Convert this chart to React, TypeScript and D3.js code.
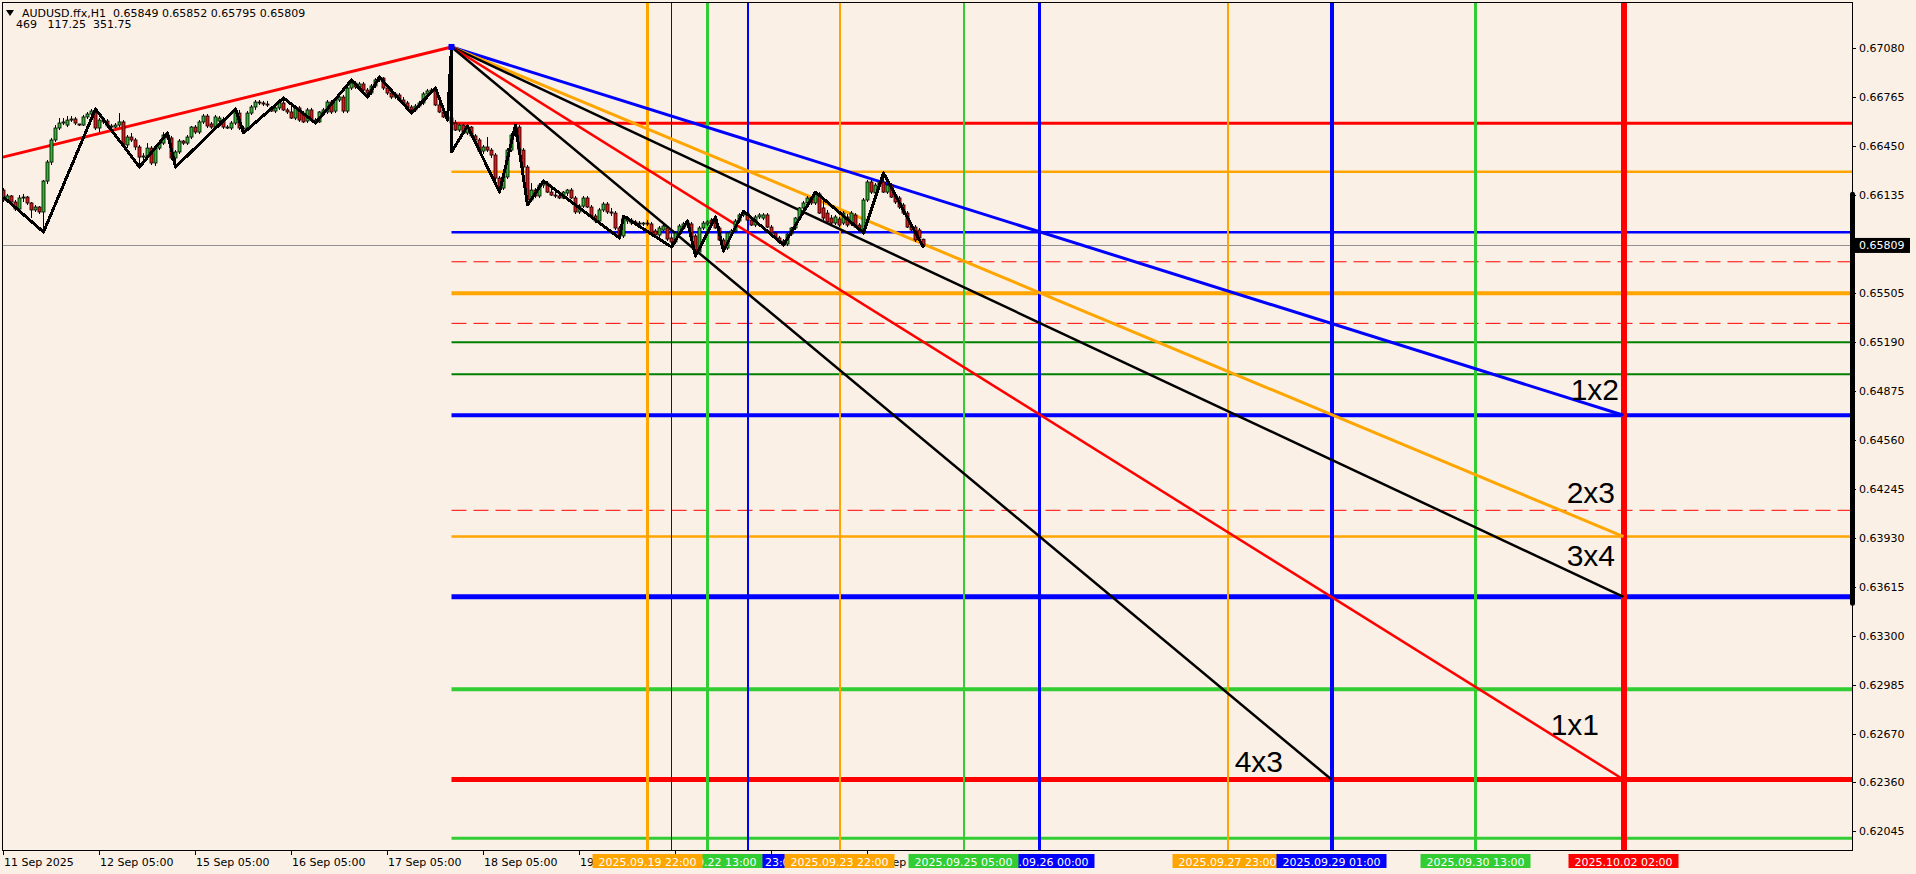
import React from "react";
import * as d3 from "d3";

// header / quote
const symbolTitle = "AUDUSD.ffx,H1";
const lastQuote = ["0.65849", "0.65852", "0.65795", "0.65809"];
const indicatorLine = ["469", "117.25", "351.75"];
const lastPrice = 0.65809;

// trading sessions on the chart (each bar = 1h, session starts 05:00)
const tradingDays = ["2025.09.11", "2025.09.12", "2025.09.15", "2025.09.16", "2025.09.17",
  "2025.09.18", "2025.09.19", "2025.09.22", "2025.09.23", "2025.09.24"];
const dayLabels = ["11 Sep 2025", "12 Sep 05:00", "15 Sep 05:00", "16 Sep 05:00", "17 Sep 05:00",
  "18 Sep 05:00", "19 Sep 05:00", "22 Sep 05:00", "23 Sep 05:00", "24 Sep 05:00"];

const priceTicks = [0.67080, 0.66765, 0.66450, 0.66135, 0.65505, 0.65190, 0.64875, 0.64560,
  0.64245, 0.63930, 0.63615, 0.63300, 0.62985, 0.62670, 0.62360, 0.62045];

// H1 bars: open, high, low, close in points (1e-5)
const bars: number[][] = [
  // 11 Sep
  [66165, 66178, 66088, 66101], [66101, 66140, 66088, 66127], [66127, 66133, 66075, 66088], [66088, 66101, 66030, 66043],
  [66043, 66133, 66030, 66114], [66114, 66140, 66088, 66120], [66120, 66127, 66069, 66082], [66082, 66088, 65985, 66037],
  [66037, 66069, 66024, 66056], [66056, 66062, 66011, 66024], [66024, 66230, 65895, 66223], [66223, 66358, 66204, 66345],
  [66345, 66500, 66326, 66487], [66487, 66583, 66474, 66564], [66564, 66628, 66551, 66596], [66596, 66628, 66583, 66603],
  [66583, 66641, 66570, 66615], [66615, 66641, 66603, 66622], [66622, 66635, 66583, 66596], [66590, 66590, 66577, 66583],
  [66583, 66648, 66577, 66635], [66635, 66667, 66622, 66654], [66654, 66686, 66641, 66673], [66673, 66686, 66551, 66564],
  // 12 Sep
  [66564, 66628, 66538, 66615], [66615, 66628, 66590, 66603], [66609, 66622, 66564, 66577], [66577, 66590, 66558, 66570],
  [66570, 66596, 66564, 66583], [66583, 66660, 66570, 66603], [66603, 66615, 66442, 66455], [66455, 66519, 66435, 66506],
  [66506, 66532, 66474, 66487], [66487, 66500, 66422, 66442], [66442, 66455, 66313, 66377], [66377, 66403, 66358, 66384],
  [66384, 66467, 66371, 66435], [66435, 66448, 66326, 66339], [66339, 66448, 66320, 66435], [66435, 66480, 66422, 66467],
  [66467, 66538, 66455, 66519], [66519, 66532, 66487, 66500], [66500, 66513, 66358, 66371], [66371, 66422, 66313, 66410],
  // 15 Sep
  [66410, 66493, 66397, 66480], [66480, 66487, 66455, 66467], [66467, 66519, 66455, 66506], [66506, 66577, 66493, 66570],
  [66570, 66583, 66525, 66538], [66538, 66615, 66525, 66603], [66603, 66654, 66590, 66641], [66641, 66654, 66564, 66577],
  [66590, 66603, 66558, 66570], [66570, 66648, 66558, 66635], [66609, 66641, 66596, 66628], [66615, 66635, 66558, 66570],
  [66570, 66583, 66558, 66570], [66564, 66609, 66551, 66596], [66596, 66686, 66583, 66673], [66660, 66680, 66551, 66564],
  [66564, 66577, 66532, 66558], [66558, 66673, 66545, 66660], [66660, 66712, 66648, 66699], [66699, 66744, 66680, 66731],
  [66731, 66744, 66712, 66725], [66725, 66738, 66705, 66718], [66718, 66738, 66699, 66712], [66693, 66699, 66667, 66673],
  // 16 Sep
  [66673, 66705, 66660, 66693], [66693, 66738, 66680, 66725], [66725, 66757, 66673, 66680], [66680, 66693, 66654, 66667],
  [66667, 66705, 66622, 66628], [66628, 66705, 66615, 66693], [66693, 66705, 66603, 66615], [66660, 66673, 66596, 66603],
  [66609, 66693, 66596, 66680], [66680, 66693, 66609, 66615], [66615, 66628, 66596, 66603], [66603, 66673, 66596, 66667],
  [66660, 66693, 66648, 66680], [66667, 66744, 66654, 66731], [66731, 66744, 66654, 66667], [66673, 66757, 66660, 66744],
  [66744, 66776, 66731, 66763], [66763, 66776, 66660, 66673], [66673, 66834, 66660, 66821], [66821, 66873, 66808, 66853],
  [66853, 66866, 66815, 66828], [66828, 66860, 66815, 66847], [66847, 66860, 66795, 66808], [66808, 66821, 66763, 66789],
  // 17 Sep
  [66789, 66847, 66776, 66834], [66834, 66885, 66821, 66873], [66873, 66892, 66860, 66885], [66885, 66892, 66808, 66821],
  [66821, 66834, 66776, 66789], [66789, 66802, 66750, 66763], [66763, 66795, 66750, 66783], [66776, 66789, 66738, 66744],
  [66744, 66763, 66712, 66725], [66725, 66738, 66686, 66699], [66699, 66712, 66660, 66680], [66680, 66718, 66667, 66705],
  [66705, 66738, 66693, 66725], [66725, 66795, 66712, 66783], [66783, 66815, 66770, 66802], [66802, 66821, 66789, 66808],
  [66808, 66821, 66705, 66712], [66712, 66725, 66660, 66667], [66667, 66680, 66628, 66635], [66635, 66654, 66615, 66628],
  [66628, 67085, 66410, 66596], [66596, 66615, 66545, 66551], [66551, 66596, 66538, 66583], [66583, 66590, 66525, 66532],
  // 18 Sep
  [66532, 66577, 66519, 66570], [66570, 66577, 66500, 66513], [66513, 66525, 66480, 66487], [66487, 66500, 66403, 66416],
  [66416, 66455, 66397, 66442], [66442, 66506, 66410, 66422], [66422, 66435, 66371, 66390], [66390, 66403, 66217, 66242],
  [66242, 66255, 66152, 66178], [66178, 66262, 66165, 66249], [66249, 66435, 66236, 66422], [66422, 66532, 66410, 66519],
  [66519, 66583, 66506, 66570], [66570, 66583, 66410, 66422], [66422, 66435, 66300, 66313], [66313, 66326, 66069, 66101],
  [66101, 66210, 66088, 66165], [66165, 66178, 66114, 66127], [66127, 66210, 66114, 66197], [66197, 66223, 66178, 66210],
  [66210, 66223, 66146, 66152], [66152, 66172, 66127, 66133], [66133, 66152, 66114, 66127], [66127, 66140, 66107, 66114],
  // 19 Sep
  [66114, 66159, 66107, 66152], [66146, 66172, 66127, 66165], [66165, 66178, 66107, 66114], [66114, 66127, 66011, 66024],
  [66024, 66075, 66011, 66062], [66062, 66127, 66050, 66114], [66114, 66127, 66050, 66056], [66056, 66069, 65985, 65998],
  [65998, 66011, 65953, 65966], [65966, 66050, 65953, 66037], [66037, 66088, 66024, 66075], [66075, 66088, 66011, 66024],
  [66024, 66050, 65998, 66017], [66017, 66030, 65908, 65921], [65921, 65934, 65857, 65870], [65870, 65998, 65857, 65985],
  [65966, 65998, 65947, 65979], [65953, 65985, 65940, 65972], [65960, 65972, 65940, 65953], [65953, 65966, 65934, 65947],
  [65947, 65960, 65934, 65953], [65953, 65972, 65934, 65947], [65947, 65960, 65882, 65889], [65902, 65915, 65870, 65876],
  // 22 Sep
  [65876, 65934, 65863, 65921], [65908, 65947, 65895, 65934], [65921, 65934, 65837, 65850], [65857, 65870, 65799, 65831],
  [65831, 65902, 65818, 65889], [65889, 65947, 65876, 65934], [65921, 65960, 65908, 65947], [65940, 65966, 65927, 65960],
  [65947, 65960, 65857, 65863], [65870, 65882, 65741, 65767], [65767, 65934, 65754, 65921], [65921, 65966, 65908, 65953],
  [65947, 65972, 65934, 65960], [65972, 65985, 65947, 65953], [65979, 65992, 65915, 65921], [65921, 65934, 65837, 65844],
  [65844, 65857, 65773, 65792], [65792, 65902, 65780, 65889], [65889, 65915, 65876, 65902], [65902, 65979, 65889, 65966],
  [65966, 66017, 65953, 66005], [66005, 66030, 65992, 66017], [66017, 66030, 65966, 65972], [65972, 65985, 65934, 65940],
  // 23 Sep
  [65940, 66005, 65927, 65992], [65992, 66017, 65979, 66005], [65985, 66017, 65972, 66005], [66005, 66017, 65921, 65927],
  [65927, 65940, 65882, 65889], [65889, 65902, 65850, 65857], [65857, 65870, 65825, 65831], [65837, 65850, 65812, 65818],
  [65818, 65895, 65805, 65882], [65882, 65927, 65870, 65921], [65921, 65992, 65908, 65985], [65985, 66056, 65972, 66050],
  [66050, 66095, 66037, 66082], [66082, 66127, 66069, 66114], [66114, 66127, 66069, 66082], [66082, 66152, 66069, 66140],
  [66140, 66152, 66011, 66017], [66050, 66101, 65972, 65985], [66017, 66037, 65953, 65960], [65985, 66005, 65940, 65953],
  [65953, 66005, 65940, 65992], [65979, 65992, 65927, 65940], [65953, 66030, 65940, 66017], [65992, 66011, 65927, 65940],
  // 24 Sep
  [65947, 66030, 65934, 66017], [66005, 66017, 65921, 65927], [65940, 65953, 65908, 65921], [65908, 66114, 65889, 66101],
  [66101, 66230, 66088, 66217], [66217, 66242, 66140, 66152], [66146, 66210, 66133, 66197], [66197, 66230, 66185, 66217],
  [66217, 66275, 66146, 66152], [66152, 66210, 66140, 66197], [66197, 66210, 66114, 66120], [66133, 66146, 66075, 66088],
  [66114, 66127, 66043, 66056], [66069, 66082, 66005, 66017], [66017, 66030, 65921, 65927], [65927, 65940, 65902, 65908],
  [65927, 65940, 65831, 65844], [65908, 65921, 65844, 65857], [65849, 65852, 65795, 65809],
];

// zigzag pivots: bar number, price in points
const zigzag: number[][] = [
  [0, 66120], [10, 65895], [23, 66686], [34, 66313], [41, 66532], [43, 66313], [58, 66686], [60, 66532],
  [70, 66757], [78, 66596], [87, 66873], [91, 66763], [94, 66892], [102, 66660], [108, 66821], [111, 66615],
  [112, 67085], [112, 66410], [116, 66577], [124, 66152], [128, 66583], [131, 66069], [135, 66223], [154, 65857],
  [155, 65998], [167, 65799], [171, 65966], [173, 65741], [178, 65992], [180, 65773], [185, 66030], [195, 65812],
  [203, 66152], [215, 65889], [220, 66275], [230, 65795],
];

const trendLine = { from: ["2025.09.11 05:00", 0.66377], to: ["2025.09.17 21:00", 0.67085] };
const fanOrigin = { time: "2025.09.17 21:00", price: 0.67085 };

const fanLines = [
  { name: "1x2", time: "2025.10.02 02:00", price: 0.64717, color: "#0000ff", width: 3 },
  { name: "2x3", time: "2025.10.02 02:00", price: 0.63937, color: "#ffa500", width: 3 },
  { name: "3x4", time: "2025.10.02 02:00", price: 0.63550, color: "#000000", width: 2.5 },
  { name: "1x1", time: "2025.10.02 02:00", price: 0.62375, color: "#ff0000", width: 2.5 },
  { name: "4x3", time: "2025.09.29 01:00", price: 0.62375, color: "#000000", width: 2.5 },
];

const fanTexts = [
  { text: "1x2", time: "2025.10.02 01:00", price: 0.64815 },
  { text: "2x3", time: "2025.10.02 00:00", price: 0.64153 },
  { text: "3x4", time: "2025.10.02 00:00", price: 0.63748 },
  { text: "1x1", time: "2025.10.01 20:00", price: 0.62661 },
  { text: "4x3", time: "2025.09.28 13:00", price: 0.62423 },
];

const levelPrices = [0.66594, 0.66283, 0.65893, 0.65704, 0.65501, 0.65308, 0.65186, 0.64980,
  0.64717, 0.64106, 0.63937, 0.63550, 0.62955, 0.62375, 0.61997];
const levelColors = ["#ff0000", "#ffa500", "#0000ff", "#ff0000", "#ffa500", "#ff0000", "#008000", "#008000",
  "#0000ff", "#ff0000", "#ffa500", "#0000ff", "#32cd32", "#ff0000", "#32cd32"];
const levelWidths = [3, 2.5, 2.5, 1, 4, 1, 2, 2, 4, 1, 2.5, 5, 4, 5, 3];
const levelDashed = [false, false, false, true, false, true, false, false, false, true, false, false, false, false, false];

// vertical time lines, listed in drawing order of their labels
const timeLines = [
  { time: "2025.09.22 04:00", color: "#0000ff", width: 1, label: false },
  { time: "2025.09.22 23:00", color: "#0000ff", width: 2, label: true },
  { time: "2025.09.22 13:00", color: "#32cd32", width: 3, label: true },
  { time: "2025.09.19 22:00", color: "#ffa500", width: 3, label: true },
  { time: "2025.09.23 22:00", color: "#ffa500", width: 2, label: true },
  { time: "2025.09.26 00:00", color: "#0000ff", width: 3, label: true },
  { time: "2025.09.25 05:00", color: "#32cd32", width: 2, label: true },
  { time: "2025.09.27 23:00", color: "#ffa500", width: 2, label: true },
  { time: "2025.09.29 01:00", color: "#0000ff", width: 4, label: true },
  { time: "2025.09.30 13:00", color: "#32cd32", width: 3, label: true },
  { time: "2025.10.02 02:00", color: "#ff0000", width: 6, label: true },
];

const rangeBar = [0.66138, 0.63508];

const W = 1916;
const H = 874;
const plot = { left: 2, top: 2, right: 1852, bottom: 850 };
const font = "DejaVu Sans";

const parseT = d3.timeParse("%Y.%m.%d %H:%M");
const lastDay = parseT(tradingDays[tradingDays.length - 1] + " 05:00") as Date;

// time string -> bar number (weekends skipped on history, plain hours in the future)
function barOf(t: string): number {
  const day = t.slice(0, 10);
  const hour = +t.slice(11, 13);
  const k = tradingDays.indexOf(day);
  if (k >= 0 && k < tradingDays.length - 1) return k * 24 + hour - 5;
  const d = parseT(t) as Date;
  return (tradingDays.length - 1) * 24 + (d.getTime() - lastDay.getTime()) / 3600000;
}

export default function App() {
  const x = d3.scaleLinear().domain([0, 1]).range([3, 7]);
  const y = d3.scaleLinear().domain([0.61922, 0.67387]).range([850, 0]);
  const pt = (v: number) => v / 1e5;
  const crisp = (v: number) => Math.round(v) + 0.5;

  const zz = d3.line<number[]>().x(d => x(d[0]) + 0.5).y(d => y(pt(d[1])));
  const ox = x(barOf(fanOrigin.time)) + 0.5;
  const oy = y(fanOrigin.price);

  return (
    <svg width={W} height={H} style={{ position: "fixed", left: 0, top: 0 }} fontFamily={font}>
      <rect width={W} height={H} fill="#faf0e6" />
      <defs>
        <clipPath id="plotClip">
          <rect x={plot.left} y={plot.top} width={plot.right - plot.left} height={plot.bottom - plot.top} />
        </clipPath>
      </defs>

      <g clipPath="url(#plotClip)">
        {/* price line */}
        <line x1={plot.left} x2={plot.right} y1={crisp(y(lastPrice))} y2={crisp(y(lastPrice))} stroke="#909090" strokeWidth={1} />

        {/* horizontal levels */}
        {levelPrices.map((p, i) => (
          <line key={"h" + i} x1={ox} x2={plot.right} y1={y(p)} y2={y(p)}
            stroke={levelColors[i]} strokeWidth={levelWidths[i]}
            strokeDasharray={levelDashed[i] ? "15,7" : undefined} />
        ))}

        {/* vertical time lines */}
        {timeLines.map((l, i) => {
          const vx = x(barOf(l.time)) + 0.5;
          return <line key={"v" + i} x1={vx} x2={vx} y1={plot.top} y2={plot.bottom}
            stroke={l.color} strokeWidth={l.width} shapeRendering="crispEdges" />;
        })}

        {/* rising trend line */}
        <line x1={x(barOf(trendLine.from[0] as string))} y1={y(trendLine.from[1] as number)}
          x2={x(barOf(trendLine.to[0] as string)) + 0.5} y2={y(trendLine.to[1] as number)}
          stroke="#ff0000" strokeWidth={3} />

        {/* fan */}
        {fanLines.map((f, i) => (
          <line key={"f" + i} x1={ox} y1={oy} x2={x(barOf(f.time)) + 0.5} y2={y(f.price)}
            stroke={f.color} strokeWidth={f.width} />
        ))}

        {/* candles */}
        {bars.map((b, i) => {
          const [o, h, l, c] = b.map(pt);
          const cx = x(i);
          const top = y(Math.max(o, c));
          const bh = Math.max(1, y(Math.min(o, c)) - top);
          return (
            <g key={"c" + i}>
              <line x1={cx + 0.5} x2={cx + 0.5} y1={y(h)} y2={y(l)} stroke="#000" strokeWidth={1} />
              <rect x={cx - 1} y={top} width={3} height={bh} fill={c >= o ? "#2fb82f" : "#e81414"} stroke="#000" strokeWidth={0.8} />
            </g>
          );
        })}

        {/* zigzag */}
        <path d={zz(zigzag) || ""} fill="none" stroke="#000" strokeWidth={3} strokeLinejoin="round"
          shapeRendering="crispEdges" />

        <rect x={ox - 3} y={oy - 3} width={6} height={6} fill="#0000ff" />

        {fanTexts.map((t, i) => (
          <text key={"t" + i} x={x(barOf(t.time))} y={y(t.price)} textAnchor="end"
            fontFamily="Liberation Sans" fontSize={30} fill="#000">{t.text}</text>
        ))}
      </g>

      {/* frame */}
      <line x1={plot.left + 0.5} x2={plot.left + 0.5} y1={plot.top} y2={plot.bottom} stroke="#000" />
      <line x1={plot.left} x2={plot.right} y1={plot.top + 0.5} y2={plot.top + 0.5} stroke="#000" />
      <line x1={plot.right + 0.5} x2={plot.right + 0.5} y1={plot.top} y2={plot.bottom + 1} stroke="#000" />
      <line x1={plot.left} x2={plot.right + 1} y1={plot.bottom + 0.5} y2={plot.bottom + 0.5} stroke="#000" />

      <line x1={plot.right + 0.5} x2={plot.right + 0.5} y1={y(rangeBar[0])} y2={y(rangeBar[1])}
        stroke="#000" strokeWidth={5} strokeLinecap="round" />

      {/* price axis */}
      {priceTicks.map((p, i) => (
        <g key={"p" + i}>
          <line x1={plot.right} x2={plot.right + 4} y1={crisp(y(p))} y2={crisp(y(p))} stroke="#000" />
          <text x={1859} y={y(p) + 4} fontSize={11} fill="#000">{p.toFixed(5)}</text>
        </g>
      ))}
      <rect x={1855} y={y(lastPrice) - 7.5} width={55} height={15} fill="#000" />
      <text x={1859} y={y(lastPrice) + 4} fontSize={11} fill="#fff">{lastPrice.toFixed(5)}</text>

      {/* time axis */}
      {dayLabels.map((t, i) => {
        const tx = x(i * 24);
        return (
          <g key={"d" + i}>
            <line x1={tx + 0.5} x2={tx + 0.5} y1={plot.bottom} y2={plot.bottom + 5} stroke="#000" />
            <text x={tx + 1} y={866} fontSize={11} fill="#000">{t}</text>
          </g>
        );
      })}
      {timeLines.filter(l => l.label).map((l, i) => {
        const vx = x(barOf(l.time)) + 0.5;
        return (
          <g key={"vl" + i}>
            <rect x={vx - 55} y={854} width={110} height={14} fill={l.color} />
            <text x={vx} y={866} textAnchor="middle" fontSize={11} fill="#fff">{l.time}</text>
          </g>
        );
      })}

      {/* header */}
      <path d="M6,10 L14,10 L10,16 Z" fill="#000" />
      <text x={22} y={17} fontSize={11} fill="#000" style={{ whiteSpace: "pre" }}>
        {symbolTitle + "  " + lastQuote.join(" ")}
      </text>
      <text x={16} y={28} fontSize={11} fill="#000" style={{ whiteSpace: "pre" }}>
        {indicatorLine[0] + "   " + indicatorLine[1] + "  " + indicatorLine[2]}
      </text>
    </svg>
  );
}
